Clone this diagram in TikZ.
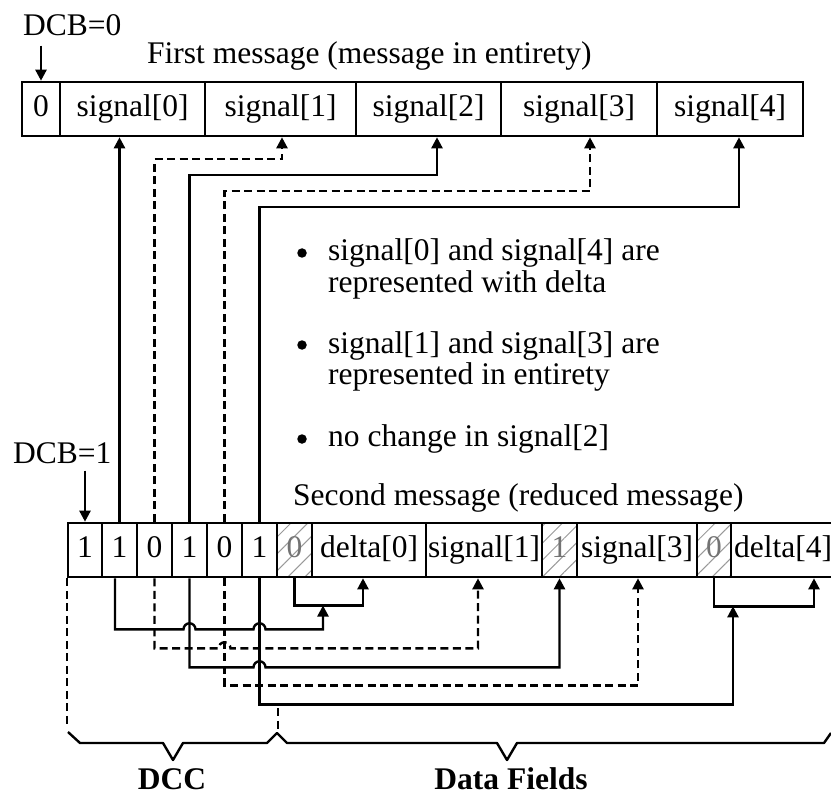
\documentclass[tikz,border=0pt]{standalone}
\usepackage{fontspec}
\setmainfont{Liberation Serif}
\usetikzlibrary{arrows.meta,calc,patterns.meta}
\begin{document}
\begin{tikzpicture}[x=1pt,y=-1pt,
  every node/.style={font=\fontsize{31.5}{36}\selectfont},
  cell/.style={draw,line width=2.6pt,inner sep=0pt,minimum height=54pt,text height=22pt,text depth=7pt},
  hatch/.style={cell,pattern={Lines[angle=45,distance=12pt,line width=1pt]},pattern color=gray!80,text=black!55},
  conn/.style={line width=2.4pt},
  dconn/.style={line width=2.4pt,dash pattern=on 8pt off 4.5pt},
  arr/.style={-{Triangle[length=11pt,width=11pt]}},
  lbl/.style={inner sep=0pt,anchor=base west},
  dot/.style={circle,fill,inner sep=0pt,minimum size=9.5pt},
  boldlbl/.style={inner sep=0pt,anchor=base,font=\bfseries\fontsize{31.5}{36}\selectfont},
]
\useasboundingbox (0,0) rectangle (831,797);

% first message
\node[cell,minimum width=38pt]  (t0) at (41,109)    {0};
\node[cell,minimum width=145pt] (t1) at (132.5,109) {signal[0]};
\node[cell,minimum width=151pt] (t2) at (280.5,109) {signal[1]};
\node[cell,minimum width=145pt] (t3) at (428.5,109) {signal[2]};
\node[cell,minimum width=156pt] (t4) at (579,109)   {signal[3]};
\node[cell,minimum width=146pt] (t5) at (730,109)   {signal[4]};

% second message
\node[cell,minimum width=34pt] (b0) at (85,550)    {1};
\node[cell,minimum width=35pt] (b1) at (119.5,550) {1};
\node[cell,minimum width=35pt] (b2) at (154.5,550) {0};
\node[cell,minimum width=35pt] (b3) at (189.5,550) {1};
\node[cell,minimum width=35pt] (b4) at (224.5,550) {0};
\node[cell,minimum width=35pt] (b5) at (259.5,550) {1};
\node[hatch,minimum width=35pt] (h0) at (294.5,550) {0};
\node[cell,minimum width=114pt] (d0) at (369,550)  {delta[0]};
\node[cell,minimum width=116pt] (s1) at (484,550)  {signal[1]};
\node[hatch,minimum width=35pt] (h1) at (559.5,550) {1};
\node[cell,minimum width=120pt] (s3) at (637,550)  {signal[3]};
\node[hatch,minimum width=34pt] (h2) at (714,550)  {0};
\node[cell,minimum width=104pt] (d4) at (783,550)  {delta[4]};

% labels
\node[lbl] (dcb0) at (23,36) {DCB=0};
\node[lbl] (first) at (147,64) {First message (message in entirety)};
\node[lbl] (dcb1) at (13,463) {DCB=1};
\node[lbl] (second) at (293,505) {Second message (reduced message)};
\node[dot] (bu1) at (302,253) {};
\node[lbl] (l1) at (328,261) {signal[0] and signal[4] are};
\node[lbl] (l2) at (328,292) {represented with delta};
\node[dot] (bu2) at (302,345) {};
\node[lbl] (l3) at (328,353) {signal[1] and signal[3] are};
\node[lbl] (l4) at (328,384) {represented in entirety};
\node[dot] (bu3) at (302,439) {};
\node[lbl] (l5) at (328,446) {no change in signal[2]};
\node[boldlbl] (dcc) at (172,789) {DCC};
\node[boldlbl] (df) at (511,789) {Data Fields};

% DCB arrows
\draw[conn,arr] ([yshift=35pt]t0.north) -- (t0.north);
\draw[conn,arr] ([yshift=51pt]b0.north) -- (b0.north);

% upward connectors to first message
\draw[conn,arr] (b1.north) -- (b1.north |- t1.south);
\draw[dconn,arr] (b2.north) |- ($(t2.south)+(1.5,22)$) -- ($(t2.south)+(1.5,0)$);
\draw[conn,arr] (b3.north) |- ($(t3.south)+(8.5,38)$) -- ($(t3.south)+(8.5,0)$);
\draw[dconn,arr] (b4.north) |- ($(t4.south)+(11,54)$) -- ($(t4.south)+(11,0)$);
\draw[conn,arr] (b5.north) |- ($(t5.south)+(9,70)$) -- ($(t5.south)+(9,0)$);

% brackets below second message
\coordinate (br1) at ($(h0.south)+(28.5,28)$);
\coordinate (br2) at ($(h2.south)+(19,28)$);
\draw[conn,arr] (h0.south) -- ++(0,28) coordinate (k1) -| ($(d0.south)+(-6,0)$);
\draw[conn,arr] (h2.south) -- ++(0,28) coordinate (k2) -| ($(d4.south)+(31,0)$);

% downward connectors
\draw[conn,arr] ($(b1.south)+(-4.5,0)$) -- ++(0,51) coordinate (a1)
  -- ($(b3.south |- a1)+(-6,0)$) arc[start angle=180,end angle=0,radius=6pt]
  -- ($(b5.south |- a1)+(-6,0)$) arc[start angle=180,end angle=0,radius=6pt]
  -- (br1 |- a1) -- (br1);
\draw[dconn,arr] (b2.south) -- ++(0,70) coordinate (a2)
  -- ($(b4.south |- a2)+(-6,0)$) arc[start angle=180,end angle=0,radius=6pt]
  -- ($(s1.south |- a2)+(-6,0)$) -- ($(s1.south)+(-6,0)$);
\draw[conn,arr] (b3.south) -- ++(0,89) coordinate (a3)
  -- ($(b5.south |- a3)+(-6,0)$) arc[start angle=180,end angle=0,radius=6pt]
  -- (h1.south |- a3) -- (h1.south);
\draw[dconn,arr] (b4.south) -- ++(0,107) coordinate (a4)
  -- ($(s3.south |- a4)+(1,0)$) -- ($(s3.south)+(1,0)$);
\draw[conn,arr] (b5.south) -- ++(0,126) coordinate (a5)
  -- (br2 |- a5) -- (br2);

% DCC / data field boundaries
\draw[dconn,line width=2pt] (b0.south west) -- ++(0,148);
\draw[dconn,line width=2pt] ($(b5.south east)+(0,130)$) -- ++(0,26);

% braces
\draw[conn,line join=round] (68,732) -- (80,743) -- (163,743) -- (173,760) -- (183,743)
  -- (267,743) -- (277,733) -- (287,743) -- (497,743) -- (507,760) -- (517,743)
  -- (824,743) -- (831,733);
\end{tikzpicture}
\end{document}
